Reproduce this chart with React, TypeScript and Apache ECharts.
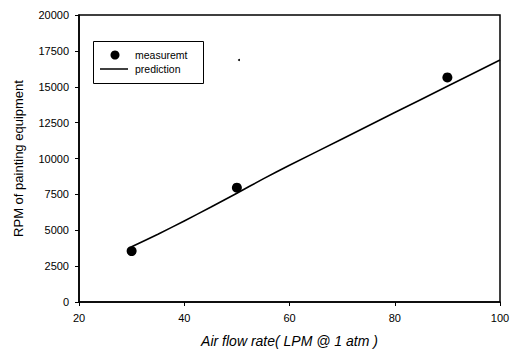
import React, { useEffect, useRef } from "react";
import * as echarts from "echarts";

const measuredX = [30, 50, 90];
const measuredY = [3550, 7970, 15650];
const predX = [30, 35, 40, 45, 50, 55, 60, 70, 80, 90, 100];
const predY = [3850, 4720, 5650, 6600, 7580, 8580, 9530, 11360, 13200, 15030, 16860];
const xTicks = { min: 20, max: 100, interval: 20 };
const yTicks = { min: 0, max: 20000, interval: 2500 };
const legendNames = ["measuremt", "prediction"];

export default function App() {
  const ref = useRef<HTMLDivElement>(null);
  useEffect(() => {
    document.body.style.margin = "0";
    if (!ref.current) return;
    const chart = echarts.init(ref.current, null, { renderer: "svg" });
    const font = "Liberation Sans, Arial, sans-serif";
    chart.setOption({
      animation: false,
      backgroundColor: "#fff",
      textStyle: { fontFamily: font, color: "#000" },
      grid: {
        left: 79,
        right: 15,
        top: 15,
        bottom: 49,
        show: true,
        borderColor: "#000",
        borderWidth: 1.5,
        backgroundColor: "transparent",
        outerBoundsMode: "none",
        containLabel: false,
      },
      xAxis: {
        type: "value",
        ...xTicks,
        name: "Air flow rate( LPM @ 1 atm )",
        nameLocation: "middle",
        nameGap: 32,
        nameTextStyle: { fontFamily: font, fontSize: 14, fontStyle: "italic", color: "#000" },
        axisLine: { show: true, lineStyle: { color: "#000", width: 1.5 } },
        axisTick: { show: true, length: 4, lineStyle: { color: "#000", width: 1 } },
        axisLabel: { fontFamily: font, fontSize: 11, color: "#000", margin: 10 },
        splitLine: { show: false },
      },
      yAxis: {
        type: "value",
        ...yTicks,
        name: "RPM of painting equipment",
        nameLocation: "middle",
        nameGap: 54,
        nameTextStyle: { fontFamily: font, fontSize: 13, color: "#000" },
        axisLine: { show: true, lineStyle: { color: "#000", width: 1.5 } },
        axisTick: { show: true, length: 4, lineStyle: { color: "#000", width: 1 } },
        axisLabel: {
          fontFamily: font,
          fontSize: 11,
          color: "#000",
          margin: 10,
          formatter: (v: number) => String(v),
        },
        splitLine: { show: false },
      },
      series: [
        {
          name: legendNames[0],
          type: "scatter",
          symbol: "circle",
          symbolSize: 10,
          itemStyle: { color: "#000", opacity: 1 },
          data: measuredX.map((x, i) => [x, measuredY[i]]),
          z: 3,
        },
        {
          name: legendNames[1],
          type: "line",
          smooth: 0.2,
          showSymbol: false,
          symbol: "none",
          lineStyle: { color: "#000", width: 1.6 },
          data: predX.map((x, i) => [x, predY[i]]),
        },
      ],
      graphic: [
        {
          type: "rect",
          shape: { x: 93.5, y: 41.5, width: 110, height: 42 },
          style: { fill: "#fff", stroke: "#000", lineWidth: 1 },
          z: 10,
        },
        { type: "circle", shape: { cx: 115, cy: 55, r: 4.5 }, style: { fill: "#000" }, z: 11 },
        {
          type: "line",
          shape: { x1: 100, y1: 69, x2: 128, y2: 69 },
          style: { stroke: "#000", lineWidth: 1.5 },
          z: 11,
        },
        {
          type: "text",
          x: 135,
          y: 55,
          style: { text: legendNames[0], font: `10.5px ${font}`, fill: "#000", verticalAlign: "middle" },
          z: 11,
        },
        {
          type: "text",
          x: 135,
          y: 69,
          style: { text: legendNames[1], font: `10.5px ${font}`, fill: "#000", verticalAlign: "middle" },
          z: 11,
        },
        { type: "circle", shape: { cx: 239, cy: 60, r: 1 }, style: { fill: "#000" } },
      ],
    });
    return () => chart.dispose();
  }, []);
  return <div ref={ref} style={{ width: 515, height: 351 }} />;
}
